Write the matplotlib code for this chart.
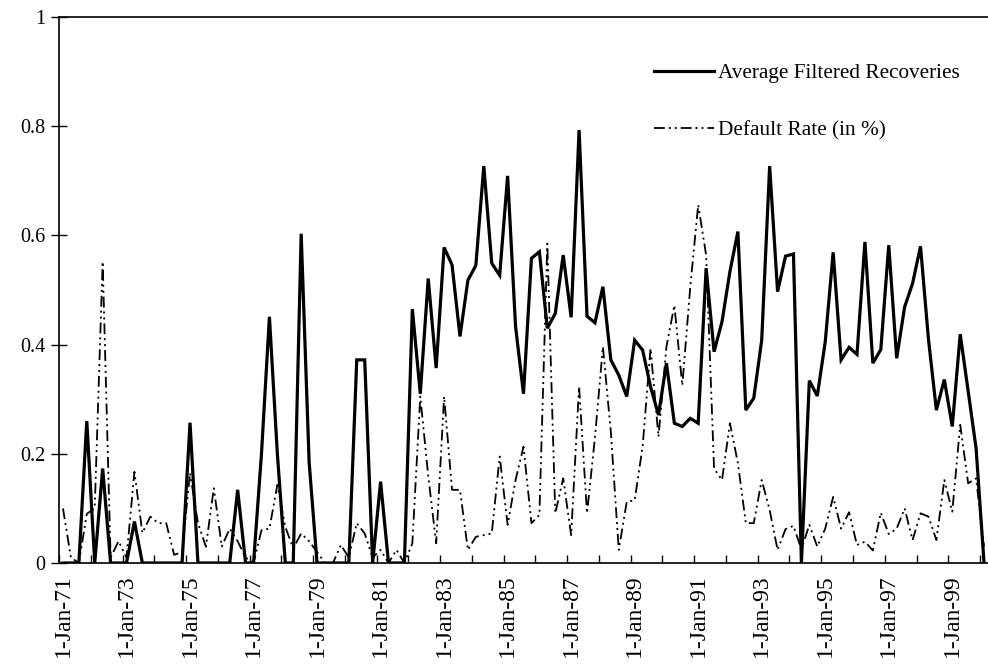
import numpy as np
import pandas as pd
import matplotlib.pyplot as plt
from matplotlib.transforms import ScaledTranslation

# quarterly observations, 1971Q1 .. 2000Q1
recoveries = [
    0, 0, 0, 0.26, 0, 0.173, 0, 0, 0, 0.076,
    0, 0, 0, 0, 0, 0, 0.257, 0, 0, 0,
    0, 0, 0.134, 0, 0, 0.2, 0.451, 0.2, 0, 0,
    0.603, 0.185, 0, 0, 0, 0, 0, 0.372, 0.372, 0,
    0.149, 0, 0, 0, 0.465, 0.31, 0.521, 0.357, 0.578, 0.546,
    0.415, 0.518, 0.545, 0.727, 0.549, 0.527, 0.709, 0.433, 0.31, 0.558,
    0.57, 0.43, 0.457, 0.564, 0.45, 0.793, 0.452, 0.44, 0.506, 0.372,
    0.344, 0.305, 0.408, 0.39, 0.323, 0.271, 0.366, 0.256, 0.25, 0.265,
    0.256, 0.54, 0.387, 0.442, 0.534, 0.607, 0.28, 0.302, 0.408, 0.727,
    0.497, 0.562, 0.566, 0, 0.334, 0.306, 0.405, 0.569, 0.372, 0.395,
    0.382, 0.588, 0.366, 0.391, 0.582, 0.375, 0.469, 0.512, 0.58, 0.41,
    0.28, 0.336, 0.25, 0.419, 0.315, 0.21, 0,
]
default_rate = [
    0.1, 0.01, 0, 0.09, 0.1, 0.552, 0.01, 0.04, 0.01, 0.167,
    0.055, 0.085, 0.073, 0.073, 0.015, 0.02, 0.165, 0.073, 0.03, 0.137,
    0.03, 0.063, 0.04, 0.01, 0, 0.06, 0.063, 0.143, 0.066, 0.027,
    0.054, 0.04, 0.02, 0, 0, 0.033, 0.01, 0.073, 0.054, 0.01,
    0.024, 0, 0.024, 0, 0.036, 0.305, 0.16, 0.036, 0.305, 0.134,
    0.134, 0.024, 0.048, 0.051, 0.054, 0.195, 0.07, 0.152, 0.213, 0.073,
    0.088, 0.585, 0.091, 0.155, 0.051, 0.323, 0.091, 0.23, 0.396, 0.24,
    0.024, 0.112, 0.115, 0.213, 0.393, 0.231, 0.396, 0.472, 0.325, 0.505,
    0.656, 0.564, 0.173, 0.152, 0.256, 0.183, 0.073, 0.073, 0.152, 0.097,
    0.024, 0.062, 0.068, 0.025, 0.07, 0.03, 0.063, 0.121, 0.063, 0.093,
    0.033, 0.039, 0.023, 0.092, 0.053, 0.063, 0.1, 0.042, 0.091, 0.085,
    0.042, 0.152, 0.094, 0.253, 0.146, 0.155, 0.03,
]
quarters = pd.date_range("1971-01-01", periods=len(recoveries), freq="QS")
label_step = 8

plt.rcParams["font.family"] = ["Liberation Serif", "DejaVu Serif"]
plt.rcParams["font.size"] = 14.5

fig = plt.figure(figsize=(9.88, 6.66), dpi=100)
ax = fig.add_axes([59 / 988, 103 / 666, 929 / 988, 546 / 666])

x = np.arange(len(recoveries))
ax.plot(x, recoveries, color="black", lw=2.3, solid_joinstyle="miter",
        label="Average Filtered Recoveries")
ax.plot(x, default_rate, color="black", lw=1.3,
        dashes=(6, 2.2, 1.1, 2.2, 1.1, 2.2), label="Default Rate (in %)")

ax.set_xlim(-0.5, len(recoveries) - 0.5)
ax.set_ylim(0, 1)
ax.set_yticks([0, 0.2, 0.4, 0.6, 0.8, 1])
ax.set_yticklabels(["0", "0.2", "0.4", "0.6", "0.8", "1"])

ticks = x[::label_step]
ax.set_xticks(ticks)
ax.set_xticklabels([f"{d.day}-{d.strftime('%b-%y')}" for d in quarters[::label_step]],
                   rotation=90, fontsize=17)
# nudge the date labels a little to the right
shift = ScaledTranslation(3 / 100, 0, fig.dpi_scale_trans)
for lab in ax.get_xticklabels():
    lab.set_transform(lab.get_transform() + shift)
ax.set_xticks(np.arange(-0.5, len(recoveries), 4), minor=True)
ax.tick_params(axis="x", which="major", length=0, pad=8)
ax.tick_params(axis="x", which="minor", direction="in", length=6, width=1)
ax.tick_params(axis="y", direction="inout", length=12, width=1, pad=4)

for side in ["left", "bottom", "top"]:
    ax.spines[side].set_linewidth(1.2)
ax.spines["right"].set_visible(False)

ax.legend(loc="upper left", bbox_to_anchor=(0.62, 0.95), frameon=False,
          handlelength=2.8, handletextpad=0.2, labelspacing=1.75, fontsize=15.3)

plt.savefig("out.png")
